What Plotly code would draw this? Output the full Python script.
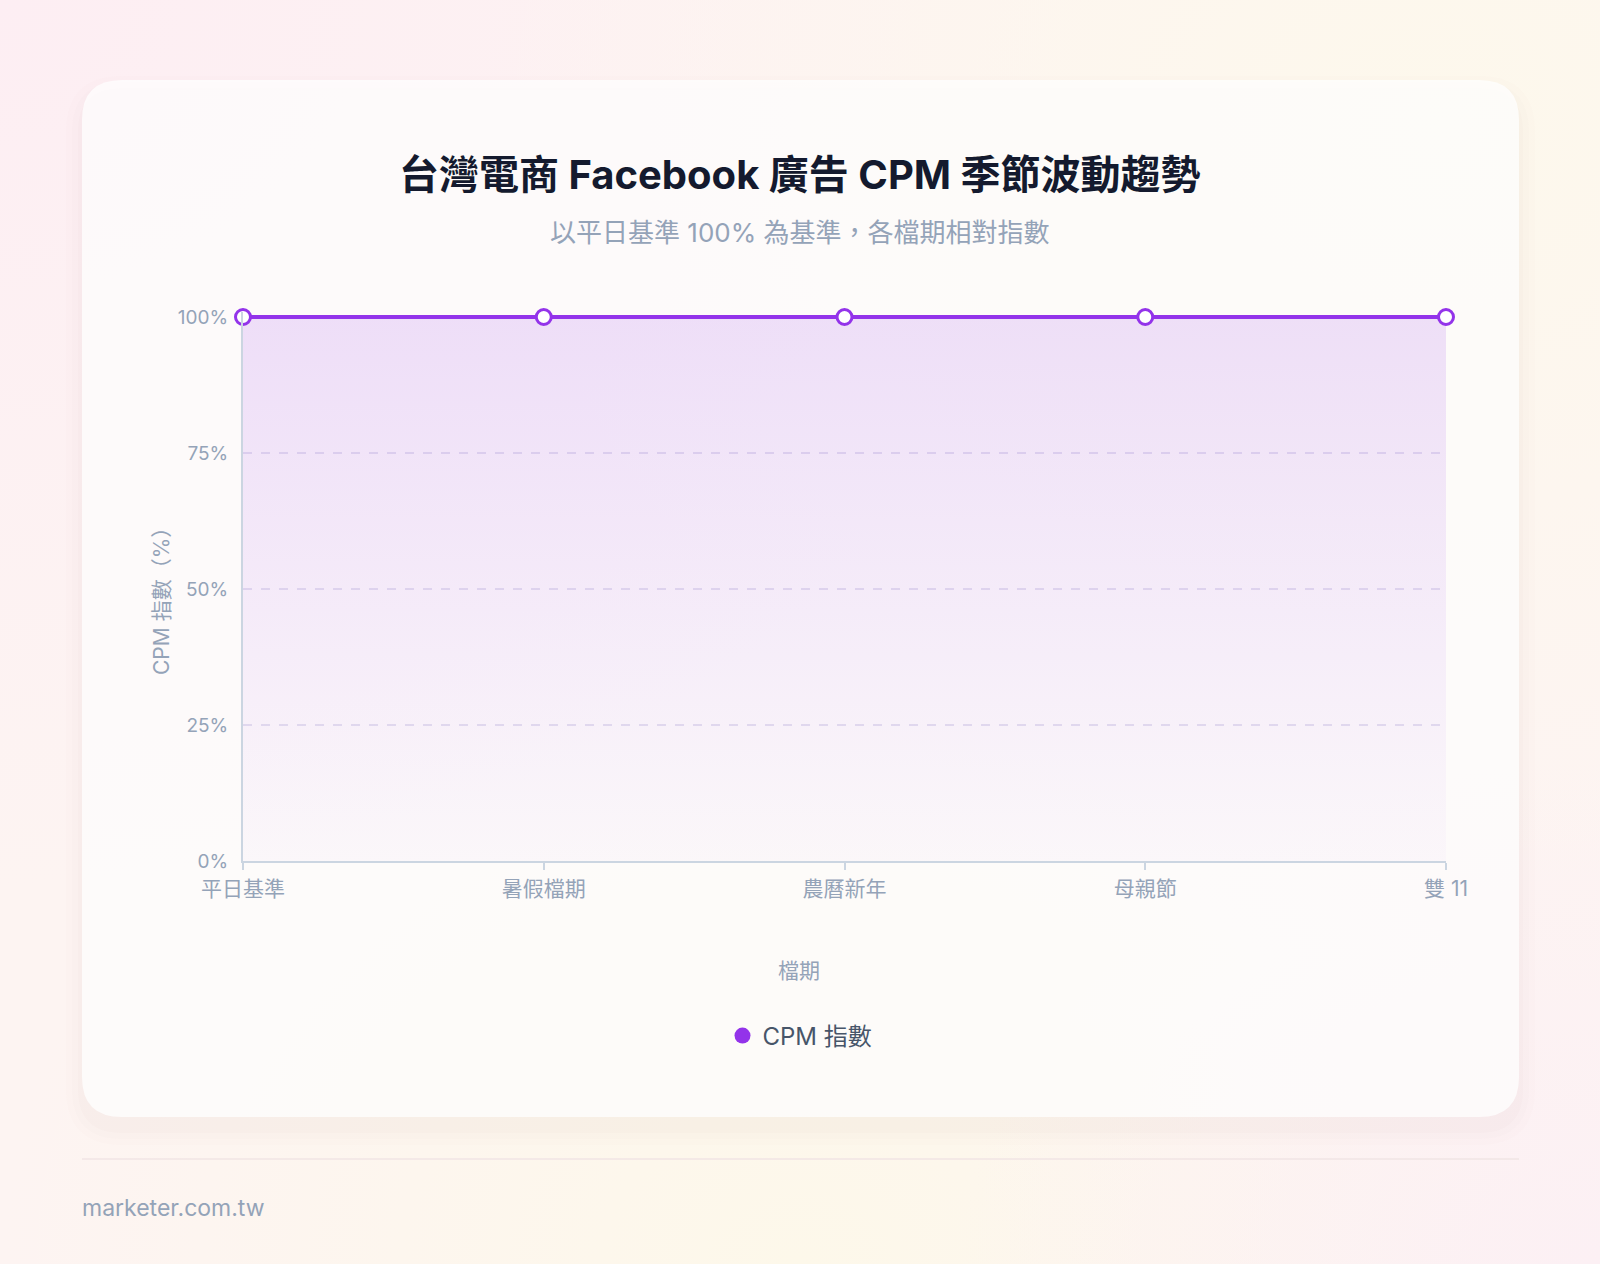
import base64

import plotly.graph_objects as go

# ---- data ----
periods = ["平日基準", "暑假檔期", "農曆新年", "母親節", "雙 11"]
cpm_index = [100, 100, 100, 100, 100]
y_ticks = [0, 25, 50, 75, 100]
y_tick_labels = ["0%", "25%", "50%", "75%", "100%"]

W, H = 1600, 1264
PURPLE = "#9333ea"
MUTED = "#94a3b8"
FONT = "Inter, 'Noto Sans CJK TC', sans-serif"

# plot area in page pixels
PLOT_L, PLOT_R = 243, 1446
PLOT_T, PLOT_B = 317, 861          # y of 100% and 0%
Y_MAX = 101                         # a little head-room so the 100% line isn't clipped


def px_x(x):
    return x / W


def px_y(y):
    return 1 - y / H


def rounded_rect(x0, y0, x1, y1, r):
    """SVG path (paper coords) for a rounded rectangle given in pixels."""
    rx, ry = r / W, r / H
    X0, X1 = px_x(x0), px_x(x1)
    Y0, Y1 = px_y(y0), px_y(y1)  # Y0 top, Y1 bottom
    return (
        f"M{X0 + rx},{Y0} L{X1 - rx},{Y0} Q{X1},{Y0} {X1},{Y0 - ry} "
        f"L{X1},{Y1 + ry} Q{X1},{Y1} {X1 - rx},{Y1} "
        f"L{X0 + rx},{Y1} Q{X0},{Y1} {X0},{Y1 + ry} "
        f"L{X0},{Y0 - ry} Q{X0},{Y0} {X0 + rx},{Y0} Z"
    )


# soft page background (pink / cream glow)
bg_svg = f"""<svg xmlns='http://www.w3.org/2000/svg' width='{W}' height='{H}'>
<defs>
<radialGradient id='a' cx='0' cy='0' r='0.7'><stop offset='0' stop-color='#fdeef3'/><stop offset='1' stop-color='#fdeef3' stop-opacity='0'/></radialGradient>
<radialGradient id='b' cx='0.9' cy='0.1' r='0.6'><stop offset='0' stop-color='#fdf8ec'/><stop offset='1' stop-color='#fdf8ec' stop-opacity='0'/></radialGradient>
<radialGradient id='c' cx='0.5' cy='1' r='0.5'><stop offset='0' stop-color='#fdf8ea'/><stop offset='1' stop-color='#fdf8ea' stop-opacity='0'/></radialGradient>
<radialGradient id='d' cx='1' cy='1' r='0.4'><stop offset='0' stop-color='#fcf0f4'/><stop offset='1' stop-color='#fcf0f4' stop-opacity='0'/></radialGradient>
</defs>
<rect width='100%' height='100%' fill='#fdf4f2'/>
<rect width='100%' height='100%' fill='url(#a)'/>
<rect width='100%' height='100%' fill='url(#b)'/>
<rect width='100%' height='100%' fill='url(#c)'/>
<rect width='100%' height='100%' fill='url(#d)'/>
</svg>"""
bg_uri = "data:image/svg+xml;base64," + base64.b64encode(bg_svg.encode()).decode()

fig = go.Figure()

fig.add_trace(
    go.Scatter(
        x=periods,
        y=cpm_index,
        mode="lines+markers",
        line=dict(color=PURPLE, width=4),
        marker=dict(size=15, color="white", line=dict(color=PURPLE, width=3)),
        fill="tozeroy",
        fillgradient=dict(
            type="vertical",
            start=0,
            stop=100,
            colorscale=[[0, "rgba(147,51,234,0.02)"], [1, "rgba(147,51,234,0.14)"]],
        ),
        cliponaxis=False,
        showlegend=False,
        hovertemplate="%{x}: %{y}%<extra></extra>",
    )
)
# legend entry shown as a filled circle
fig.add_trace(
    go.Scatter(
        x=[None], y=[None], mode="markers", name="CPM 指數",
        marker=dict(size=20, color=PURPLE),
    )
)

shapes = []
# card shadow + card
for i, a in enumerate([0.02, 0.025, 0.03]):
    g = 16 - i * 6
    shapes.append(dict(
        type="path", xref="paper", yref="paper", layer="below",
        path=rounded_rect(82 - g, 80 - g + 12, 1519 + g, 1117 + g + 12, 40 + g),
        fillcolor=f"rgba(190,150,150,{a})", line=dict(width=0),
    ))
shapes.append(dict(
    type="path", xref="paper", yref="paper", layer="below",
    path=rounded_rect(82, 80, 1519, 1117, 40),
    fillcolor="rgba(255,255,255,0.75)", line=dict(width=0),
))
# footer divider
shapes.append(dict(
    type="line", xref="paper", yref="paper", layer="below",
    x0=px_x(82), x1=px_x(1519), y0=px_y(1159), y1=px_y(1159),
    line=dict(color="#f1e5e4", width=1.5),
))

annotations = [
    dict(text="<b>台灣電商 Facebook 廣告 CPM 季節波動趨勢</b>",
         x=0.5, y=px_y(174), xref="paper", yref="paper", showarrow=False,
         xanchor="center", yanchor="middle",
         font=dict(size=40, color="#141a2e", family=FONT)),
    dict(text="以平日基準 100% 為基準，各檔期相對指數",
         x=0.5, y=px_y(233), xref="paper", yref="paper", showarrow=False,
         xanchor="center", yanchor="middle",
         font=dict(size=26, color=MUTED, family=FONT)),
    dict(text="CPM 指數（%）", textangle=-90,
         x=px_x(161), y=px_y(596), xref="paper", yref="paper", showarrow=False,
         xanchor="center", yanchor="middle",
         font=dict(size=21, color=MUTED, family=FONT)),
    dict(text="檔期",
         x=px_x(799), y=px_y(970), xref="paper", yref="paper", showarrow=False,
         xanchor="center", yanchor="middle",
         font=dict(size=21, color=MUTED, family=FONT)),
    dict(text="marketer.com.tw",
         x=px_x(80), y=px_y(1208), xref="paper", yref="paper", showarrow=False,
         xanchor="left", yanchor="middle",
         font=dict(size=23, color=MUTED, family=FONT)),
]

plot_top = PLOT_T - (Y_MAX - 100) * (PLOT_B - PLOT_T) / 100

fig.update_layout(
    width=W,
    height=H,
    margin=dict(l=0, r=0, t=0, b=0, pad=0, autoexpand=False),
    paper_bgcolor="#fdf4f2",
    plot_bgcolor="rgba(0,0,0,0)",
    font=dict(family=FONT, color=MUTED),
    images=[dict(source=bg_uri, xref="paper", yref="paper", x=0, y=1,
                 sizex=1, sizey=1, xanchor="left", yanchor="top",
                 sizing="stretch", layer="below")],
    shapes=shapes,
    annotations=annotations,
    hovermode="closest",
    legend=dict(
        orientation="h", x=0.5, xanchor="center", y=px_y(1036), yanchor="middle",
        font=dict(size=24, color="#475569", family=FONT),
        bgcolor="rgba(0,0,0,0)",
    ),
    xaxis=dict(
        domain=[px_x(PLOT_L), px_x(PLOT_R)],
        range=[0, len(periods) - 1],
        automargin=False,
        showgrid=False,
        zeroline=False,
        showline=True, linecolor="#cbd5e1", linewidth=2,
        ticks="outside", ticklen=7, tickcolor="#cbd5e1", tickwidth=1.5,
        tickfont=dict(size=21, color=MUTED),
        ticklabelstandoff=1,
        fixedrange=True,
    ),
    yaxis=dict(
        domain=[px_y(PLOT_B), px_y(plot_top)],
        range=[0, Y_MAX],
        automargin=False,
        tickvals=y_ticks,
        ticktext=y_tick_labels,
        showgrid=True, gridcolor="#e4e0ee", griddash="dash", gridwidth=1.5,
        zeroline=False,
        showline=True, linecolor="#cbd5e1", linewidth=2,
        ticks="", ticklabelstandoff=9,
        tickfont=dict(size=19, color=MUTED),
        fixedrange=True,
    ),
)

fig.write_html(
    "out.html",
    config={"displayModeBar": False},
    post_script="document.body.style.margin='0';",
)
